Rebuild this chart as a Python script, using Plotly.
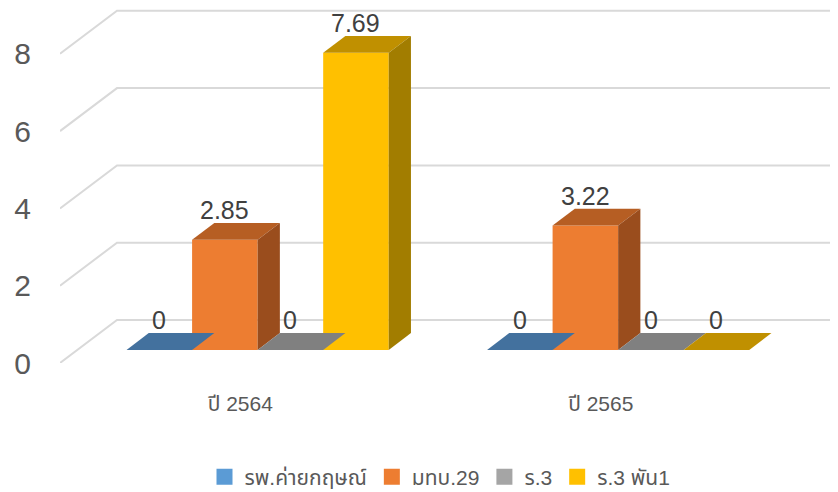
import plotly.graph_objects as go

# ---------------- data ----------------
categories = ["ปี 2564", "ปี 2565"]
series_names = ["รพ.ค่ายกฤษณ์", "มทบ.29", "ร.3", "ร.3 พัน1"]
values_rp_kritsana = [0, 0]
values_mtb29 = [2.85, 3.22]
values_r3 = [0, 0]
values_r3_pan1 = [7.69, 0]
y_tick_values = [0, 2, 4, 6, 8]

series_values = [values_rp_kritsana, values_mtb29, values_r3, values_r3_pan1]

# ---------------- styles ----------------
front_colors = ["#5B9BD5", "#ED7D31", "#A5A5A5", "#FFC000"]
top_colors = ["#43719E", "#B65E23", "#808080", "#C09000"]
side_colors = ["#365F86", "#9A4D1D", "#6B6B6B", "#A27D00"]
FONT = "Liberation Sans, Arial, Noto Sans Thai, Tahoma, sans-serif"

# page has an 8px body margin, so the figure is 8px smaller and shifted
OFF = 8
W, H = 838 - OFF, 492 - OFF
ML, MR, MT = 60 - OFF, 0, 0
PLOT_BOTTOM = 363 - OFF
MB = H - PLOT_BOTTOM
PX_PER_CAT = 360.5
PX_PER_UNIT = 38.65
DX = 57 / PX_PER_CAT          # full depth shift (x units)
DY = 43 / PX_PER_UNIT         # full depth shift (y units)
D0, D1 = 0.305, 0.695         # bar depth range (fraction of floor depth)
GAP = 1.5
n = len(series_values)
bw = 1 / (n + GAP)

fig = go.Figure()

# gridlines (back wall + slanted side wall) as shapes below traces
x_left = -0.5
x_right = -0.5 + (W - ML - MR) / PX_PER_CAT
for v in y_tick_values:
    fig.add_shape(type="path",
                  path=f"M {x_left},{v} L {x_left + DX},{v + DY} L {x_right},{v + DY}",
                  xref="x", yref="y", layer="below",
                  line=dict(color="#D9D9D9", width=2))

annotations = []
for i, (name, vals) in enumerate(zip(series_names, series_values)):
    xs, bases = [], []
    for c, v in enumerate(vals):
        xl = c - n * bw / 2 + i * bw + D0 * DX
        yb = D0 * DY
        xs.append(xl + bw / 2)
        bases.append(yb)
        ddx = (D1 - D0) * DX
        ddy = (D1 - D0) * DY
        # top face
        fig.add_trace(go.Scatter(
            x=[xl, xl + bw, xl + bw + ddx, xl + ddx, xl],
            y=[yb + v, yb + v, yb + v + ddy, yb + v + ddy, yb + v],
            fill="toself", fillcolor=top_colors[i], mode="lines",
            line=dict(width=0, color=top_colors[i]),
            showlegend=False, hoverinfo="skip"))
        if v > 0:
            fig.add_trace(go.Scatter(
                x=[xl + bw, xl + bw, xl + bw + ddx, xl + bw + ddx, xl + bw],
                y=[yb, yb + v, yb + v + ddy, yb + ddy, yb],
                fill="toself", fillcolor=side_colors[i], mode="lines",
                line=dict(width=0, color=side_colors[i]),
                showlegend=False, hoverinfo="skip"))
        annotations.append(dict(
            x=xl + bw / 2, y=v + D1 * DY, xref="x", yref="y",
            text=f"{v:g}", showarrow=False, yanchor="bottom", yshift=-3,
            font=dict(size=25, color="#404040", family=FONT)))
    fig.add_trace(go.Bar(
        x=xs, y=vals, base=bases, width=bw, name=name,
        marker=dict(color=front_colors[i], line=dict(width=0)),
        showlegend=False, hoverinfo="skip"))
    # legend proxy
    fig.add_trace(go.Scatter(
        x=[None], y=[None], mode="markers", name=name,
        marker=dict(symbol="square", size=16, color=front_colors[i])))

plot_h = H - MT - MB
fig.update_layout(
    width=W, height=H,
    margin=dict(l=ML, r=MR, t=MT, b=MB, pad=0, autoexpand=False),
    paper_bgcolor="white", plot_bgcolor="white",
    barmode="overlay",
    annotations=annotations,
    font=dict(family=FONT, color="#595959"),
    xaxis=dict(range=[x_left, x_right], tickvals=list(range(len(categories))),
               ticktext=categories, showgrid=False, zeroline=False,
               showline=False, ticks="", ticklabelstandoff=26, automargin=False,
               tickfont=dict(size=21, color="#595959")),
    yaxis=dict(range=[0, plot_h / PX_PER_UNIT], tickvals=y_tick_values,
               showgrid=False, zeroline=False, showline=False, ticks="",
               ticklabelstandoff=28, automargin=False,
               tickfont=dict(size=30, color="#595959")),
    legend=dict(orientation="h", x=(440 - OFF - ML) / (W - ML - MR), xanchor="center",
                y=-(477 - OFF - PLOT_BOTTOM) / plot_h, yanchor="middle",
                font=dict(size=21, color="#595959"), itemclick=False),
    showlegend=True,
)

fig.write_html("out.html")
